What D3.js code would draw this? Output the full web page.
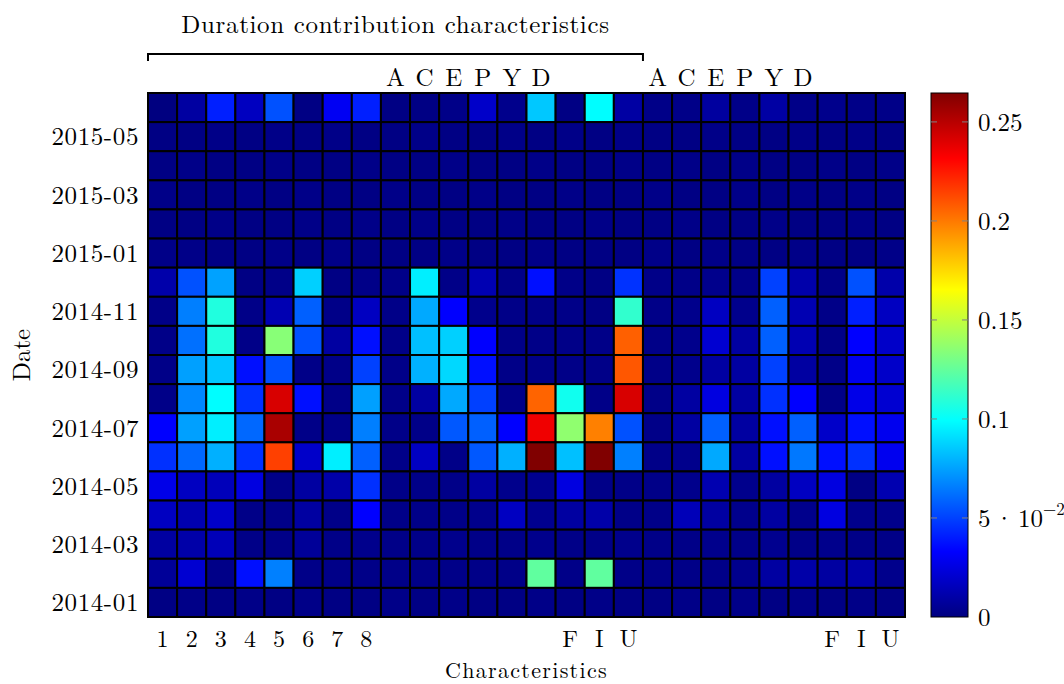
<!DOCTYPE html>
<html>
<head>
<meta charset="utf-8">
<script src="https://cdn.jsdelivr.net/npm/d3@7"></script>
<style>
  html, body { margin: 0; padding: 0; background: #fff; }
  svg text { font-family: "Latin Modern Roman", "CMU Serif", "Liberation Serif", serif; fill: #000; }
</style>
</head>
<body>
<svg id="chart" width="1064" height="684"></svg>
<script>
// Column labels along the bottom (digits and F/I/U) and top (A/C/E/P/Y/D)
const bottomLabels = ["1","2","3","4","5","6","7","8","","","","","","","F","I","U","","","","","","","F","I","U"];
const topLabels    = ["","","","","","","","","A","C","E","P","Y","D","","","","A","C","E","P","Y","D","","",""];

// Months, top row first
const months = ["2015-06","2015-05","2015-04","2015-03","2015-02","2015-01","2014-12","2014-11","2014-10",
                "2014-09","2014-08","2014-07","2014-06","2014-05","2014-04","2014-03","2014-02","2014-01"];
const monthTicks = ["2015-05","2015-03","2015-01","2014-11","2014-09","2014-07","2014-05","2014-03","2014-01"];

// Contribution per month (row) and characteristic (column)
const r2015_06 = [0.000,0.0085,0.041,0.0167,0.054,0.001,0.030,0.041,0.001,0.001,0.002,0.019,0.003,0.085,0.001,0.099,0.009,0.002,0.002,0.008,0.002,0.009,0.002,0.003,0.002,0.002];
const r2015_05 = [0.001,0.001,0.002,0.001,0.002,0.001,0.002,0.001,0.001,0.002,0.001,0.001,0.002,0.001,0.002,0.001,0.002,0.001,0.001,0.002,0.001,0.001,0.002,0.001,0.002,0.001];
const r2015_04 = [0.001,0.002,0.001,0.001,0.002,0.001,0.001,0.002,0.001,0.001,0.002,0.001,0.001,0.002,0.001,0.001,0.002,0.001,0.002,0.001,0.002,0.001,0.001,0.002,0.001,0.002];
const r2015_03 = [0.002,0.001,0.001,0.002,0.001,0.002,0.001,0.001,0.002,0.001,0.001,0.002,0.001,0.001,0.002,0.001,0.001,0.002,0.001,0.001,0.002,0.001,0.002,0.001,0.002,0.001];
const r2015_02 = [0.001,0.001,0.002,0.001,0.001,0.002,0.001,0.002,0.001,0.002,0.001,0.001,0.002,0.001,0.001,0.002,0.001,0.001,0.002,0.001,0.001,0.002,0.001,0.001,0.002,0.001];
const r2015_01 = [0.002,0.002,0.001,0.001,0.002,0.001,0.002,0.001,0.001,0.001,0.002,0.001,0.001,0.002,0.001,0.001,0.001,0.002,0.001,0.002,0.001,0.001,0.002,0.001,0.001,0.002];
const r2014_12 = [0.011,0.054,0.075,0.001,0.002,0.087,0.001,0.002,0.002,0.095,0.002,0.013,0.002,0.037,0.002,0.001,0.046,0.002,0.002,0.003,0.002,0.050,0.011,0.002,0.054,0.011];
const r2014_11 = [0.002,0.066,0.1075,0.002,0.013,0.058,0.002,0.017,0.002,0.077,0.033,0.003,0.002,0.002,0.002,0.001,0.112,0.002,0.003,0.017,0.003,0.058,0.013,0.002,0.041,0.017];
const r2014_10 = [0.002,0.062,0.1075,0.002,0.1345,0.054,0.0085,0.037,0.002,0.083,0.087,0.033,0.002,0.002,0.002,0.002,0.2066,0.002,0.003,0.021,0.0085,0.058,0.013,0.002,0.033,0.019];
const r2014_09 = [0.002,0.0746,0.085,0.037,0.054,0.002,0.002,0.050,0.002,0.079,0.089,0.037,0.002,0.002,0.002,0.002,0.209,0.002,0.003,0.0085,0.0085,0.050,0.0085,0.002,0.029,0.019];
const r2014_08 = [0.002,0.068,0.099,0.0455,0.2416,0.037,0.002,0.0746,0.002,0.0085,0.077,0.0497,0.002,0.2056,0.1034,0.002,0.2416,0.002,0.0085,0.025,0.0085,0.0455,0.033,0.002,0.027,0.021];
const r2014_07 = [0.033,0.0746,0.095,0.060,0.254,0.002,0.002,0.066,0.002,0.002,0.056,0.058,0.033,0.2354,0.1366,0.1983,0.054,0.002,0.0085,0.058,0.0085,0.037,0.058,0.019,0.037,0.029];
const r2014_06 = [0.0455,0.060,0.0787,0.0455,0.215,0.019,0.095,0.058,0.002,0.017,0.002,0.056,0.0787,0.265,0.083,0.265,0.0663,0.002,0.003,0.077,0.0085,0.037,0.0642,0.037,0.0455,0.029];
const r2014_05 = [0.027,0.017,0.015,0.025,0.002,0.0085,0.0105,0.0455,0.002,0.002,0.002,0.0085,0.003,0.004,0.025,0.002,0.002,0.002,0.003,0.0126,0.003,0.0085,0.017,0.025,0.001,0.0126];
const r2014_04 = [0.017,0.0126,0.019,0.002,0.002,0.0085,0.002,0.033,0.002,0.002,0.002,0.003,0.017,0.004,0.0085,0.0105,0.002,0.002,0.0147,0.0085,0.003,0.0085,0.003,0.025,0.003,0.003];
const r2014_03 = [0.0085,0.0105,0.0147,0.002,0.002,0.0063,0.002,0.003,0.002,0.002,0.003,0.002,0.002,0.003,0.002,0.002,0.003,0.002,0.002,0.003,0.002,0.004,0.002,0.003,0.002,0.002];
const r2014_02 = [0.0063,0.021,0.002,0.037,0.0663,0.002,0.002,0.002,0.002,0.002,0.002,0.002,0.002,0.124,0.002,0.124,0.002,0.002,0.002,0.002,0.003,0.0085,0.0105,0.0085,0.0105,0.003];
const r2014_01 = [0.001,0.002,0.001,0.002,0.001,0.002,0.001,0.001,0.002,0.001,0.002,0.001,0.001,0.002,0.001,0.002,0.001,0.001,0.002,0.001,0.002,0.001,0.002,0.001,0.002,0.001];

const rows = [r2015_06,r2015_05,r2015_04,r2015_03,r2015_02,r2015_01,r2014_12,r2014_11,r2014_10,
              r2014_09,r2014_08,r2014_07,r2014_06,r2014_05,r2014_04,r2014_03,r2014_02,r2014_01];

const colorTicks = [0, 0.05, 0.1, 0.15, 0.2, 0.25];
const vmax = 0.2646;

const cells = [];
rows.forEach((vals, r) => vals.forEach((v, c) => cells.push({ month: months[r], col: c, value: v })));

const svg = d3.select("#chart");
const plot = { left: 148, right: 905, top: 93, bottom: 617 };
const fs = 25;

const x = d3.scaleBand().domain(d3.range(bottomLabels.length)).range([plot.left, plot.right]);
const y = d3.scaleBand().domain(months).range([plot.top, plot.bottom]);

// Jet colormap
const jetStops = [0, 1/8, 3/8, 5/8, 7/8, 1];
const color = d3.scaleLinear()
  .domain(jetStops.map(t => t * vmax))
  .range(["#000080", "#0000ff", "#00ffff", "#ffff00", "#ff0000", "#800000"])
  .clamp(true);

// Heatmap cells
svg.append("g").selectAll("rect").data(cells).join("rect")
  .attr("x", d => x(d.col))
  .attr("y", d => y(d.month))
  .attr("width", x.bandwidth())
  .attr("height", y.bandwidth())
  .attr("fill", d => color(d.value))
  .attr("stroke", "#000")
  .attr("stroke-width", 2);

// Y axis labels
svg.append("g").selectAll("text").data(monthTicks).join("text")
  .attr("x", 139)
  .attr("y", d => y(d) + y.bandwidth() / 2)
  .attr("dy", "0.35em")
  .attr("text-anchor", "end")
  .attr("font-size", fs)
  .attr("letter-spacing", 0.6)
  .text(d => d);

// Bottom column labels
svg.append("g").selectAll("text").data(bottomLabels.map((t, i) => ({ t, i })).filter(d => d.t)).join("text")
  .attr("x", d => x(d.i) + x.bandwidth() / 2)
  .attr("y", 647)
  .attr("text-anchor", "middle")
  .attr("font-size", 24)
  .text(d => d.t);

// Top column labels
svg.append("g").selectAll("text").data(topLabels.map((t, i) => ({ t, i })).filter(d => d.t)).join("text")
  .attr("x", d => x(d.i) + x.bandwidth() / 2)
  .attr("y", 86)
  .attr("text-anchor", "middle")
  .attr("font-size", fs)
  .text(d => d.t);

// Bracket over the first group of characteristics
const bx0 = x(0), bx1 = x(16) + x.bandwidth();
svg.append("path")
  .attr("d", `M${bx0},61V54H${bx1}V61`)
  .attr("fill", "none")
  .attr("stroke", "#000")
  .attr("stroke-width", 2);
svg.append("text")
  .attr("x", (bx0 + bx1) / 2)
  .attr("y", 33)
  .attr("text-anchor", "middle")
  .attr("font-size", fs)
  .attr("letter-spacing", 0.65)
  .text("Duration contribution characteristics");

// Axis titles
svg.append("text")
  .attr("x", (plot.left + plot.right) / 2)
  .attr("y", 678)
  .attr("text-anchor", "middle")
  .attr("font-size", 22)
  .attr("letter-spacing", 1.3)
  .text("Characteristics");
svg.append("text")
  .attr("transform", `translate(30,${(plot.top + plot.bottom) / 2}) rotate(-90)`)
  .attr("text-anchor", "middle")
  .attr("font-size", fs)
  .text("Date");

// Colour bar
const cb = { left: 931, right: 968 };
const cy = d3.scaleLinear().domain([0, vmax]).range([plot.bottom, plot.top]);
const grad = svg.append("defs").append("linearGradient")
  .attr("id", "jet").attr("x1", 0).attr("y1", 1).attr("x2", 0).attr("y2", 0);
grad.selectAll("stop").data(jetStops).join("stop")
  .attr("offset", d => d)
  .attr("stop-color", d => color(d * vmax));
svg.append("rect")
  .attr("x", cb.left).attr("y", plot.top)
  .attr("width", cb.right - cb.left).attr("height", plot.bottom - plot.top)
  .attr("fill", "url(#jet)")
  .attr("stroke", "#000").attr("stroke-width", 1);

const cbTicks = svg.append("g");
cbTicks.selectAll("path").data(colorTicks.filter(d => d > 0)).join("path")
  .attr("d", d => `M${cb.left},${cy(d)}h6M${cb.right},${cy(d)}h-6`)
  .attr("stroke", "#808080").attr("stroke-width", 1);

const tickText = cbTicks.selectAll("text").data(colorTicks).join("text")
  .attr("x", 978)
  .attr("y", d => cy(d))
  .attr("dy", "0.35em")
  .attr("font-size", fs);
tickText.each(function (d) {
  const t = d3.select(this);
  if (d === 0.05) {
    t.append("tspan").text("5");
    t.append("tspan").attr("dx", 4).text("\u00B7");
    t.append("tspan").attr("dx", 4).text("10");
    t.append("tspan").attr("font-size", 17).attr("dy", "-0.7em").text("\u22122");
  } else {
    t.text(String(d));
  }
});
</script>
</body>
</html>
